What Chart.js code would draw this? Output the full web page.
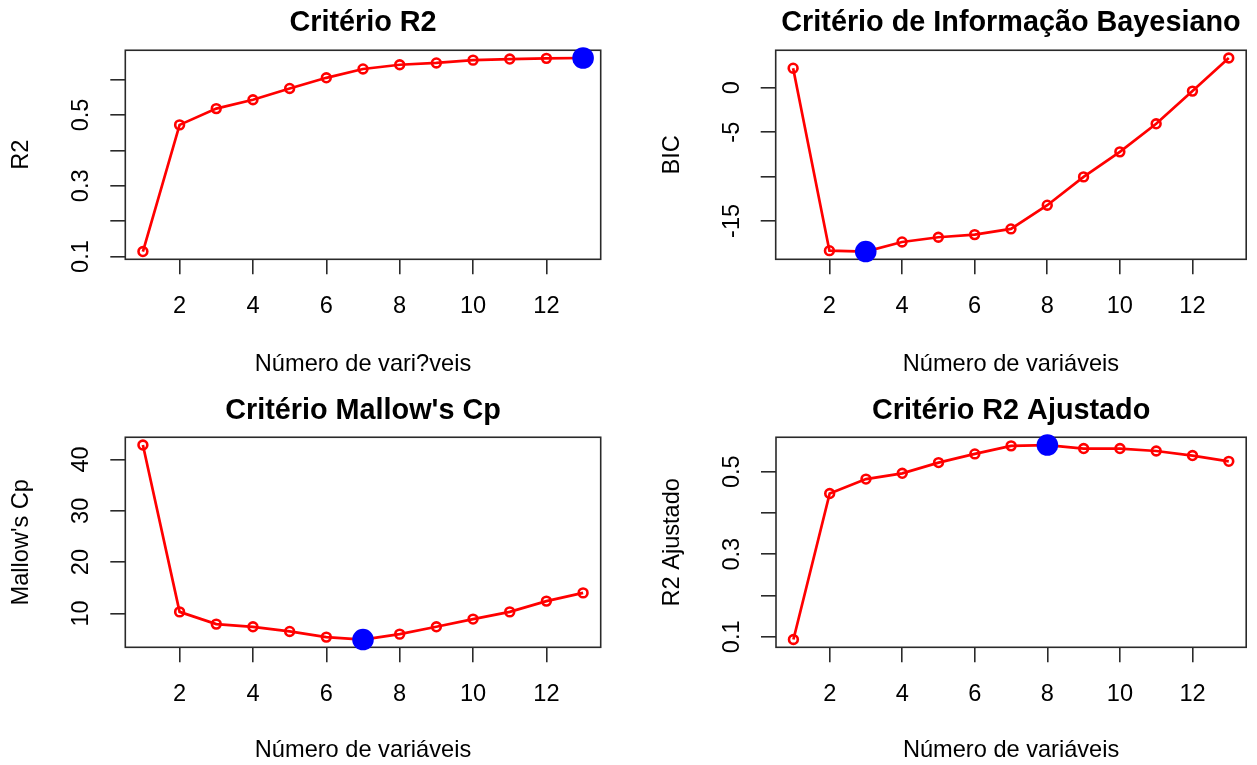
<!DOCTYPE html>
<html><head><meta charset="utf-8">
<script src="https://cdn.jsdelivr.net/npm/chart.js@4.4.1/dist/chart.umd.min.js"></script>
<style>
html,body{margin:0;padding:0;background:#fff;}
#wrap{position:relative;width:1257px;height:765px;overflow:hidden;background:#fff;}
canvas{position:absolute;}
</style></head><body>
<div id="wrap">
<canvas id="c1" width="628" height="383" style="left:0;top:0"></canvas>
<canvas id="c2" width="629" height="383" style="left:628px;top:0"></canvas>
<canvas id="c3" width="628" height="382" style="left:0;top:383px"></canvas>
<canvas id="c4" width="629" height="382" style="left:628px;top:383px"></canvas>
</div>
<script>
// ---- data ----
const numVars = [1, 2, 3, 4, 5, 6, 7, 8, 9, 10, 11, 12, 13];
const r2Values = [0.114, 0.472, 0.518, 0.543, 0.575, 0.605, 0.630, 0.642, 0.647, 0.655, 0.658, 0.660, 0.661];
const bicValues = [2.2, -18.35, -18.45, -17.37, -16.84, -16.54, -15.9, -13.23, -10.04, -7.22, -4.06, -0.38, 3.35];
const cpValues = [42.8, 10.3, 7.92, 7.4, 6.49, 5.39, 4.92, 5.97, 7.4, 8.9, 10.3, 12.4, 14.0];
const adjR2Values = [0.0933, 0.447, 0.482, 0.496, 0.522, 0.543, 0.5625, 0.5645, 0.556, 0.556, 0.550, 0.539, 0.525];

const xTicks = [2, 4, 6, 8, 10, 12];
const r2Ticks = [0.1, 0.2, 0.3, 0.4, 0.5, 0.6];
const r2TickLabels = ['0.1', '', '0.3', '', '0.5', ''];
const bicTicks = [-15, -10, -5, 0];
const bicTickLabels = ['-15', '', '-5', '0'];
const cpTicks = [10, 20, 30, 40];
const cpTickLabels = ['10', '20', '30', '40'];
const adjR2Ticks = [0.1, 0.2, 0.3, 0.4, 0.5];
const adjR2TickLabels = ['0.1', '', '0.3', '', '0.5'];

const xTitleTop = 'Número de vari?veis';
const xTitle = 'Número de variáveis';

// ---- styles ----
const FAM = "'Liberation Sans', Arial, Helvetica, sans-serif";
const tickFont = {family: FAM, size: 23.6, lineHeight: 1.2};
const titleFont = {family: FAM, size: 28.8, weight: 'bold', lineHeight: 1.2};

const framePlugin = {
  id: 'frame',
  beforeDatasetsDraw(chart) {
    const {ctx, chartArea: a} = chart;
    ctx.save();
    ctx.strokeStyle = '#2a2a2a';
    ctx.lineWidth = 1.6;
    ctx.strokeRect(a.left, a.top, a.right - a.left, a.bottom - a.top);
    ctx.restore();
  }
};

function panel(id, o) {
  const vals = o.values;
  const lo = Math.min(...vals), hi = Math.max(...vals), pad = 0.04 * (hi - lo);
  const xlo = Math.min(...numVars), xhi = Math.max(...numVars), xpad = 0.04 * (xhi - xlo);
  const target = o.best === 'max' ? hi : lo;
  const bi = vals.indexOf(target);
  const gridOpts = {drawOnChartArea: false, drawTicks: true, tickLength: 15, color: '#2a2a2a', lineWidth: 1.6};
  new Chart(document.getElementById(id), {
    type: 'line',
    data: {
      datasets: [
        {data: [{x: numVars[bi], y: vals[bi]}], showLine: false, pointRadius: 10.8,
         pointBackgroundColor: '#0000FF', pointBorderColor: '#0000FF', pointBorderWidth: 0, order: 0, clip: false},
        {data: numVars.map((x, i) => ({x: x, y: vals[i]})), borderColor: '#FF0000', borderWidth: 2.7,
         pointRadius: 4.4, pointBorderWidth: 2.6, pointBorderColor: '#FF0000', pointBackgroundColor: 'rgba(255,255,255,0)',
         tension: 0, order: 1, clip: false}
      ]
    },
    options: {
      responsive: false, animation: false, devicePixelRatio: 1,
      layout: {padding: {left: 0, right: o.padRight, top: 0, bottom: 0}},
      plugins: {
        legend: {display: false}, tooltip: {enabled: false},
        title: {display: true, text: o.title, fullSize: false, color: '#000', font: titleFont,
                padding: {top: o.tPadTop, bottom: o.tPadBottom}}
      },
      scales: {
        x: {
          type: 'linear', min: xlo - xpad, max: xhi + xpad,
          afterBuildTicks: s => { s.ticks = xTicks.map(v => ({value: v})); },
          afterFit: s => { s.height = o.xHeight; },
          ticks: {autoSkip: false, maxRotation: 0, minRotation: 0, padding: 18.2, color: '#000', font: tickFont,
                  callback: (v, i) => String(xTicks[i])},
          grid: gridOpts, border: {display: false},
          title: {display: true, text: o.xTitle, color: '#000', font: tickFont, padding: {top: 0, bottom: o.xTitlePad}}
        },
        y: {
          type: 'linear', min: lo - pad, max: hi + pad,
          afterBuildTicks: s => { s.ticks = o.yTicks.map(v => ({value: v})); },
          afterFit: s => { s.width = o.left; },
          ticks: {autoSkip: false, minRotation: 90, maxRotation: 90, crossAlign: 'center', padding: o.yTickPad,
                  color: '#000', font: tickFont, callback: (v, i) => o.yLabels[i]},
          grid: gridOpts, border: {display: false},
          title: {display: true, text: o.yTitle, color: '#000', font: tickFont, padding: {top: o.yTitlePad, bottom: 0}}
        }
      }
    },
    plugins: [framePlugin]
  });
}

panel('c1', {values: r2Values, best: 'max', title: 'Critério R2', yTitle: 'R2', xTitle: xTitleTop,
  yTicks: r2Ticks, yLabels: r2TickLabels, yTickPad: 12.2,
  left: 125.3, padRight: 27.3, tPadTop: 6.0, tPadBottom: 9.7, xHeight: 123.7, xTitlePad: 3.9, yTitlePad: 7.5});
panel('c2', {values: bicValues, best: 'min', title: 'Critério de Informação Bayesiano', yTitle: 'BIC', xTitle: xTitle,
  yTicks: bicTicks, yLabels: bicTickLabels, yTickPad: 11.6,
  left: 147.7, padRight: 6.5, tPadTop: 6.0, tPadBottom: 9.7, xHeight: 123.7, xTitlePad: 3.9, yTitlePad: 30.3});
panel('c3', {values: cpValues, best: 'min', title: "Critério Mallow's Cp", yTitle: "Mallow's Cp", xTitle: xTitle,
  yTicks: cpTicks, yLabels: cpTickLabels, yTickPad: 15.5,
  left: 125.3, padRight: 27.3, tPadTop: 10.5, tPadBottom: 9.2, xHeight: 117.7, xTitlePad: 0.2, yTitlePad: 7.5});
panel('c4', {values: adjR2Values, best: 'max', title: 'Critério R2 Ajustado', yTitle: 'R2 Ajustado', xTitle: xTitle,
  yTicks: adjR2Ticks, yLabels: adjR2TickLabels, yTickPad: 12.2,
  left: 148, padRight: 6.5, tPadTop: 10.5, tPadBottom: 9.2, xHeight: 117.7, xTitlePad: 0.2, yTitlePad: 30.3});
</script>
</body></html>
